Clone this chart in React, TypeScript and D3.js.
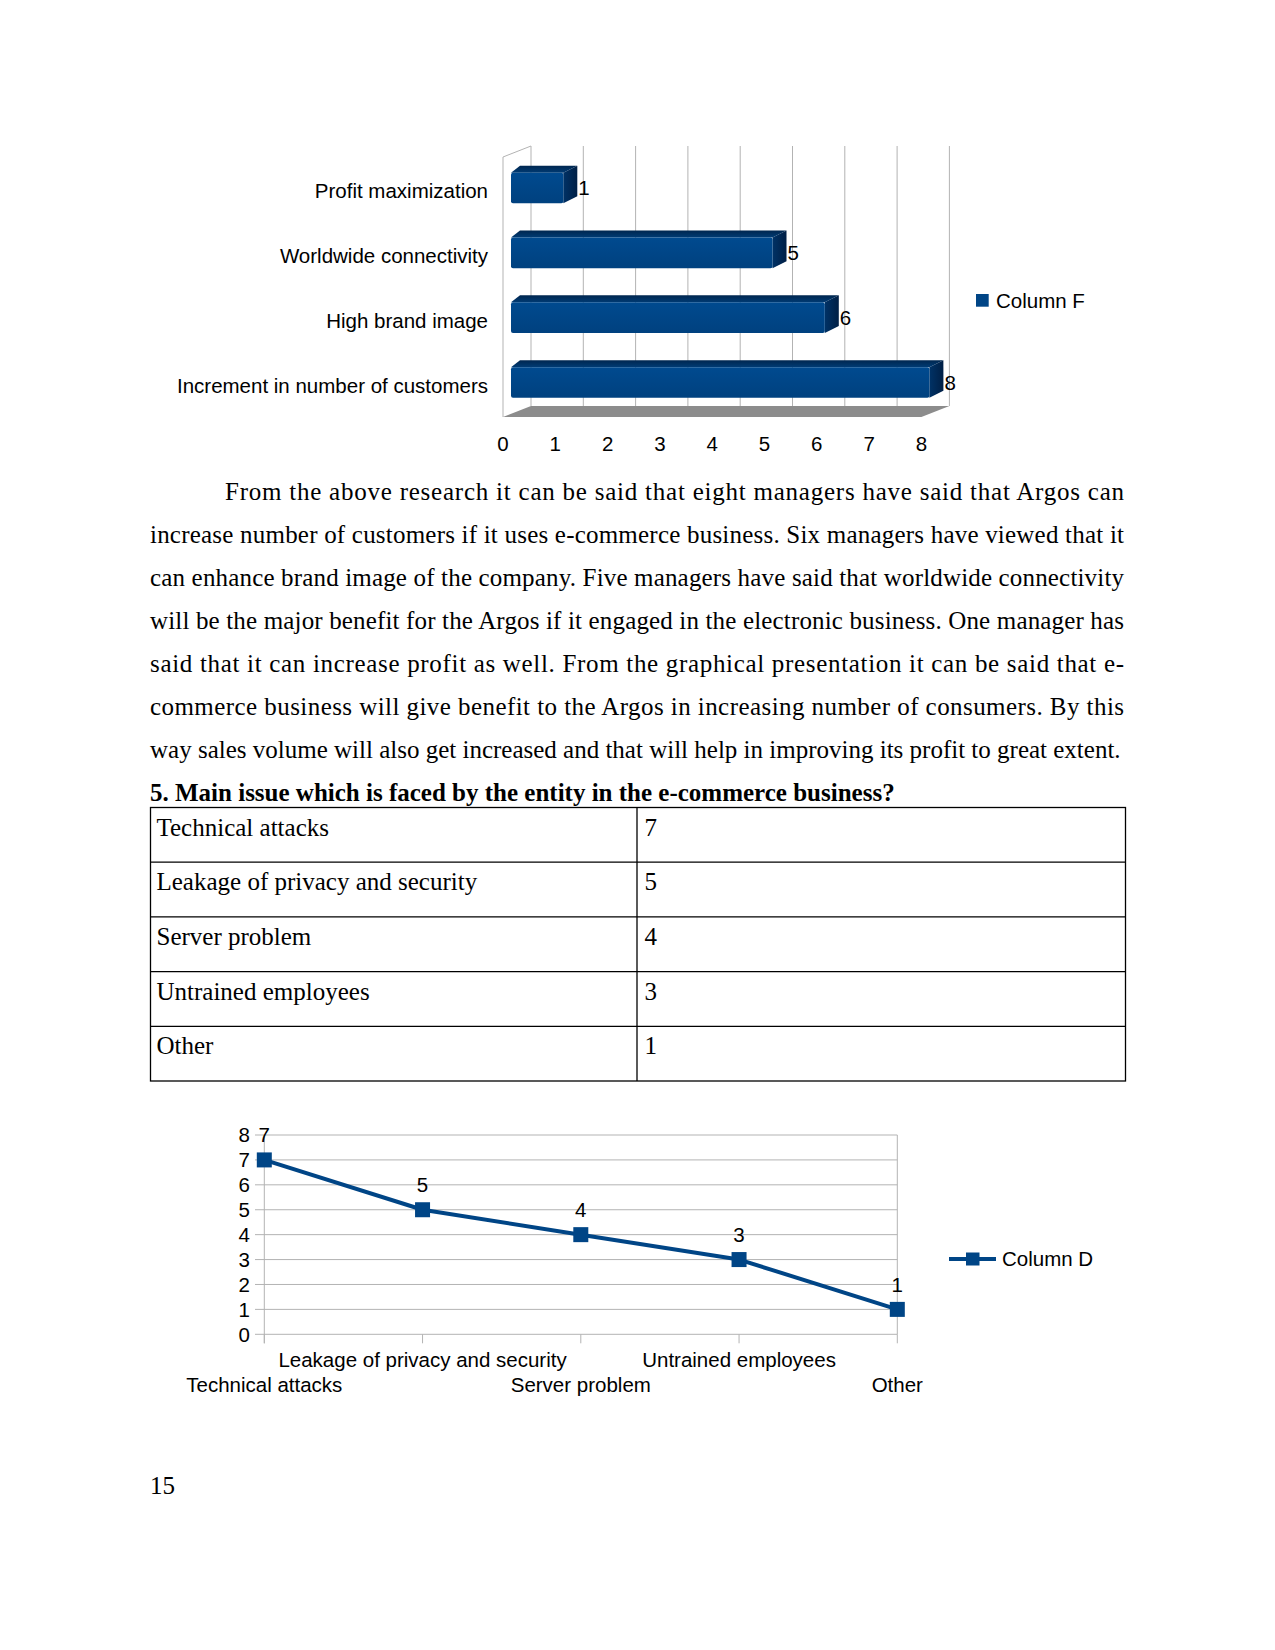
import React from "react";
import * as d3 from "d3";

const benefitCategories = [
  "Profit maximization",
  "Worldwide connectivity",
  "High brand image",
  "Increment in number of customers",
];
const benefitValues = [1, 5, 6, 8];
const benefitTicks = [0, 1, 2, 3, 4, 5, 6, 7, 8];
const benefitSeries = "Column F";

const issueCategories = [
  "Technical attacks",
  "Leakage of privacy and security",
  "Server problem",
  "Untrained employees",
  "Other",
];
const issueValues = [7, 5, 4, 3, 1];
const issueTicks = [0, 1, 2, 3, 4, 5, 6, 7, 8];
const issueSeries = "Column D";

const paragraphLines = [
  "From the above research it can be said that eight managers have said that Argos can",
  "increase number of customers if it uses e-commerce business. Six managers have viewed that it",
  "can enhance brand image of the company. Five managers have said that worldwide connectivity",
  "will be the major benefit for the Argos if it engaged in the electronic business. One manager has",
  "said that it can increase profit as well. From the graphical presentation it can be said that e-",
  "commerce business will give benefit to the Argos in increasing number of consumers. By this",
  "way sales volume will also get increased and that will help in improving its profit to great extent.",
];
const headingText = "5. Main issue which is faced by the entity in the e-commerce business?";
const pageNumber = "15";

const SANS = "'Liberation Sans', Arial, sans-serif";
const SERIF = "'Liberation Serif', 'Times New Roman', serif";
const BLUE = "#004586";
const GRID = "#b3b3b3";
const FS = 20.5;

function BarChart3D() {
  const x = d3.scaleLinear().domain([0, 8]).range([503, 921.4]);
  const y = d3.scalePoint<string>().domain(benefitCategories).range([188, 382.5]);
  const depthX = 28;
  const depthY = -11;
  const barOffX = 8;
  const half = 15.3;
  const topY = 146;
  const floorBackY = 406;
  const floorFrontY = 417;
  return (
    <g>
      <defs>
        <linearGradient id="frontGrad" x1="0" y1="0" x2="0" y2="1">
          <stop offset="0" stopColor="#004a8f" />
          <stop offset="1" stopColor="#00417f" />
        </linearGradient>
        <linearGradient id="topGrad" x1="0" y1="1" x2="0" y2="0">
          <stop offset="0" stopColor="#003b74" />
          <stop offset="1" stopColor="#00264f" />
        </linearGradient>
        <linearGradient id="sideGrad" x1="0" y1="0" x2="1" y2="0">
          <stop offset="0" stopColor="#003266" />
          <stop offset="1" stopColor="#001f45" />
        </linearGradient>
      </defs>
      {benefitTicks.map((t) => (
        <line key={"g" + t} x1={x(t) + depthX} x2={x(t) + depthX} y1={topY} y2={floorBackY} stroke={GRID} strokeWidth={1} />
      ))}
      <path
        d={`M${x(0)},${floorFrontY} L${x(0)},${topY - depthY} L${x(0) + depthX},${topY}`}
        fill="none"
        stroke={GRID}
        strokeWidth={1}
      />
      <path
        d={`M${x(0)},${floorFrontY} L${x(8)},${floorFrontY} L${x(8) + depthX},${floorBackY} L${x(0) + depthX},${floorBackY} Z`}
        fill="#8c8c8c"
      />
      {benefitCategories.map((c, i) => {
        const cy = y(c)!;
        const x0 = x(0) + barOffX;
        const x1 = x(benefitValues[i]) + barOffX;
        const yT = cy - half;
        const yB = cy + half;
        return (
          <g key={c}>
            <path d={`M${x0},${yT} L${x0 + 9},${yT - 7} L${x1 + 14},${yT - 7} L${x1},${yT} Z`} fill="url(#topGrad)" />
            <path d={`M${x1},${yT} L${x1 + 14},${yT - 7} L${x1 + 14},${yB - 7} L${x1},${yB} Z`} fill="url(#sideGrad)" />
            <rect x={x0} y={yT} width={x1 - x0} height={yB - yT} fill="url(#frontGrad)" rx={2} />
            <text x={x1 + 15} y={cy + 7} fontFamily={SANS} fontSize={FS} fill="#000">
              {benefitValues[i]}
            </text>
            <text x={488} y={cy + 10} textAnchor="end" fontFamily={SANS} fontSize={FS} fill="#000">
              {c}
            </text>
          </g>
        );
      })}
      {benefitTicks.map((t) => (
        <text key={"t" + t} x={x(t)} y={451} textAnchor="middle" fontFamily={SANS} fontSize={FS} fill="#000">
          {t}
        </text>
      ))}
      <rect x={976} y={294} width={12.7} height={12.7} fill={BLUE} />
      <text x={996} y={308} fontFamily={SANS} fontSize={FS} fill="#000">
        {benefitSeries}
      </text>
    </g>
  );
}

function Paragraph() {
  const left = 150;
  const right = 1124;
  const indent = 225;
  const base = 500;
  const step = 43;
  return (
    <g fontFamily={SERIF} fontSize={25} fill="#000">
      {paragraphLines.map((l, i) => {
        const x0 = i === 0 ? indent : left;
        const last = i === paragraphLines.length - 1;
        return (
          <text
            key={i}
            x={x0}
            y={base + i * step}
            {...(last ? {} : { textLength: right - x0, lengthAdjust: "spacing" })}
          >
            {l}
          </text>
        );
      })}
    </g>
  );
}

function IssueTable() {
  const left = 150.5;
  const mid = 637;
  const right = 1125.5;
  const top = 807.5;
  const rowH = 54.7;
  const rows = issueCategories.map((c, i) => ({ c, v: issueValues[i] }));
  const bottom = top + rowH * rows.length;
  return (
    <g>
      <text x={150} y={800.5} fontFamily={SERIF} fontSize={25} fontWeight="bold" fill="#000">
        {headingText}
      </text>
      <rect x={left} y={top} width={right - left} height={bottom - top} fill="none" stroke="#000" strokeWidth={1.3} />
      <line x1={mid} x2={mid} y1={top} y2={bottom} stroke="#000" strokeWidth={1.3} />
      {rows.map((r, i) => (
        <g key={r.c}>
          {i > 0 && <line x1={left} x2={right} y1={top + rowH * i} y2={top + rowH * i} stroke="#000" strokeWidth={1.3} />}
          <text x={156.5} y={top + rowH * i + 28} fontFamily={SERIF} fontSize={25} fill="#000">
            {r.c}
          </text>
          <text x={644.5} y={top + rowH * i + 28} fontFamily={SERIF} fontSize={25} fill="#000">
            {r.v}
          </text>
        </g>
      ))}
    </g>
  );
}

function LineChart() {
  const x = d3.scalePoint<string>().domain(issueCategories).range([264.3, 897.3]);
  const y = d3.scaleLinear().domain([0, 8]).range([1334.3, 1135]);
  const line = d3
    .line<number>()
    .x((_, i) => x(issueCategories[i])!)
    .y((d) => y(d));
  const ms = 15;
  return (
    <g>
      {issueTicks.map((t) => (
        <g key={"y" + t}>
          <line x1={255} x2={897.3} y1={y(t)} y2={y(t)} stroke={GRID} strokeWidth={1} />
          <text x={250} y={y(t) + 7.3} textAnchor="end" fontFamily={SANS} fontSize={FS} fill="#000">
            {t}
          </text>
        </g>
      ))}
      <line x1={264.3} x2={264.3} y1={y(8)} y2={y(0) + 9} stroke={GRID} strokeWidth={1} />
      <line x1={897.3} x2={897.3} y1={y(8)} y2={y(0)} stroke={GRID} strokeWidth={1} />
      {issueCategories.map((c, i) => (
        <g key={c}>
          <line x1={x(c)!} x2={x(c)!} y1={y(0)} y2={y(0) + 9} stroke={GRID} strokeWidth={1} />
          <text
            x={x(c)!}
            y={i % 2 === 1 ? 1367.3 : 1391.5}
            textAnchor="middle"
            fontFamily={SANS}
            fontSize={FS}
            fill="#000"
          >
            {c}
          </text>
        </g>
      ))}
      <path d={line(issueValues)!} fill="none" stroke={BLUE} strokeWidth={4} strokeLinejoin="round" />
      {issueValues.map((v, i) => {
        const cx = x(issueCategories[i])!;
        const cy = y(v);
        return (
          <g key={"m" + i}>
            <rect x={cx - ms / 2} y={cy - ms / 2} width={ms} height={ms} fill={BLUE} />
            <text x={cx} y={cy - 17.5} textAnchor="middle" fontFamily={SANS} fontSize={FS} fill="#000">
              {v}
            </text>
          </g>
        );
      })}
      <line x1={949} x2={996} y1={1259} y2={1259} stroke={BLUE} strokeWidth={4} />
      <rect x={966} y={1252.5} width={13.5} height={13} fill={BLUE} />
      <text x={1002} y={1266.3} fontFamily={SANS} fontSize={FS} fill="#000">
        {issueSeries}
      </text>
    </g>
  );
}

export default function App() {
  return (
    <svg
      width={1275}
      height={1650}
      viewBox="0 0 1275 1650"
      style={{ position: "absolute", left: 0, top: 0, background: "#fff" }}
    >
      <rect x={0} y={0} width={1275} height={1650} fill="#fff" />
      <BarChart3D />
      <Paragraph />
      <IssueTable />
      <LineChart />
      <text x={150} y={1494} fontFamily={SERIF} fontSize={25} fill="#000">
        {pageNumber}
      </text>
    </svg>
  );
}
